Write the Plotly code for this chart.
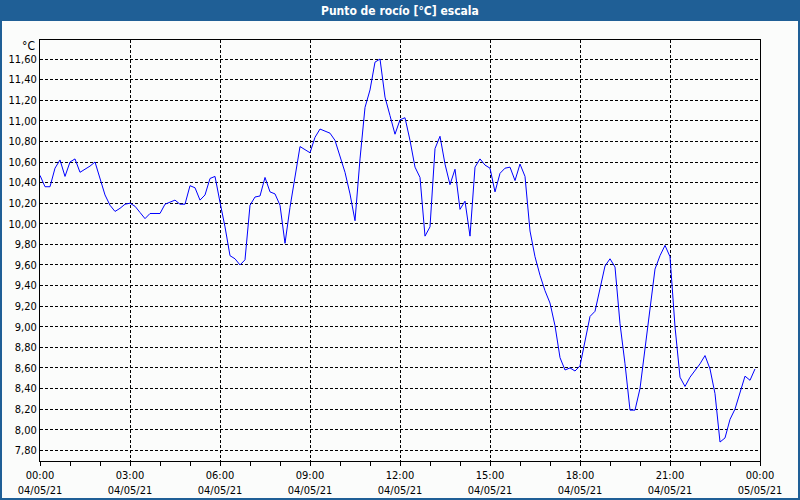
import pandas as pd
import plotly.graph_objects as go

# Dew point readings every 10 minutes, 04/05/21 00:00 .. 23:50
dew_point = [
    10.47, 10.36, 10.36, 10.54, 10.62, 10.46, 10.60, 10.63, 10.50, 10.53, 10.56, 10.60,
    10.44, 10.28, 10.18, 10.12, 10.15, 10.19, 10.20, 10.17, 10.11, 10.05, 10.10, 10.10,
    10.10, 10.19, 10.21, 10.23, 10.19, 10.19, 10.37, 10.35, 10.23, 10.28, 10.44, 10.46,
    10.21, 9.97, 9.69, 9.66, 9.60, 9.65, 10.18, 10.26, 10.27, 10.45, 10.31, 10.29,
    10.18, 9.81, 10.16, 10.45, 10.75, 10.72, 10.69, 10.84, 10.92, 10.90, 10.88, 10.81,
    10.65, 10.50, 10.29, 10.03, 10.63, 11.13, 11.30, 11.57, 11.60, 11.23, 11.05, 10.87,
    11.01, 11.03, 10.81, 10.55, 10.45, 9.88, 9.97, 10.73, 10.85, 10.58, 10.38, 10.53,
    10.14, 10.22, 9.88, 10.55, 10.63, 10.57, 10.54, 10.31, 10.49, 10.54, 10.55, 10.42,
    10.58, 10.46, 9.93, 9.68, 9.50, 9.35, 9.23, 9.01, 8.70, 8.58, 8.60, 8.57,
    8.62, 8.87, 9.10, 9.15, 9.38, 9.59, 9.66, 9.58, 9.03, 8.64, 8.19, 8.19,
    8.40, 8.77, 9.19, 9.56, 9.69, 9.79, 9.68, 9.00, 8.51, 8.42, 8.51, 8.57,
    8.64, 8.72, 8.59, 8.35, 7.88, 7.92, 8.10, 8.20, 8.35, 8.52, 8.48, 8.59,
]
times = pd.date_range("2021-05-04 00:00", periods=len(dew_point), freq="10min")

x_tick_vals = ["2021-05-04 00:00", "2021-05-04 03:00", "2021-05-04 06:00",
               "2021-05-04 09:00", "2021-05-04 12:00", "2021-05-04 15:00",
               "2021-05-04 18:00", "2021-05-04 21:00", "2021-05-05 00:00"]
x_tick_text = ["00:00<br>04/05/21", "03:00<br>04/05/21", "06:00<br>04/05/21",
               "09:00<br>04/05/21", "12:00<br>04/05/21", "15:00<br>04/05/21",
               "18:00<br>04/05/21", "21:00<br>04/05/21", "00:00<br>05/05/21"]
y_tick_vals = [7.8, 8.0, 8.2, 8.4, 8.6, 8.8, 9.0, 9.2, 9.4, 9.6, 9.8, 10.0,
               10.2, 10.4, 10.6, 10.8, 11.0, 11.2, 11.4, 11.6]

title_text = "Punto de rocío [°C] escala"
unit_text = "°C"

FONT = "DejaVu Sans Condensed, Liberation Sans, sans-serif"
BAR = "#1f5f96"

W, H = 800, 500
L, R, T, B = 40, 760, 40, 461


def px_x(p):
    return (p - L) / (R - L)


def px_y(p):
    return (B - p) / (B - T)


fig = go.Figure()
fig.add_trace(go.Scatter(x=times, y=dew_point, mode="lines",
                         line=dict(color="#0000ff", width=1), hoverinfo="skip"))

fig.update_layout(
    width=W, height=H, autosize=False,
    margin=dict(l=L, r=W - R, t=T, b=H - B, pad=0, autoexpand=False),
    paper_bgcolor="#fbfcfb", plot_bgcolor="#fbfcfb",
    separators=",.",
    showlegend=False,
    font=dict(family=FONT, size=11, color="#000000"),
    xaxis=dict(
        range=["2021-05-04 00:00", "2021-05-05 00:00"],
        tickmode="array", tickvals=x_tick_vals, ticktext=x_tick_text,
        ticks="outside", ticklen=4, tickcolor="#000000", tickwidth=1,
        showgrid=True, gridcolor="#000000", gridwidth=1, griddash="3px,2px",
        showline=True, linecolor="#000000", linewidth=1, mirror=True,
        zeroline=False, fixedrange=True, automargin=False,
        minor=dict(dtick=3600000, tick0="2021-05-04 00:00", ticks="outside",
                   ticklen=4, tickcolor="#000000", showgrid=False),
        tickfont=dict(family=FONT, size=11, color="#000000"),
    ),
    yaxis=dict(
        range=[7.696, 11.785],
        tickmode="array", tickvals=y_tick_vals, tickformat=".2f",
        ticks="", showgrid=True, gridcolor="#000000", gridwidth=1, griddash="3px,2px",
        showline=True, linecolor="#000000", linewidth=1, mirror=True,
        zeroline=False, fixedrange=True, automargin=False,
        tickfont=dict(family=FONT, size=11, color="#000000"),
    ),
    shapes=[
        dict(type="rect", xref="paper", yref="paper",
             x0=px_x(0), x1=px_x(W), y0=px_y(21), y1=px_y(0),
             fillcolor=BAR, line=dict(width=0), layer="above"),
        dict(type="rect", xref="paper", yref="paper",
             x0=px_x(1), x1=px_x(W - 1), y0=px_y(H - 1), y1=px_y(0),
             fillcolor="rgba(0,0,0,0)", line=dict(color=BAR, width=2), layer="above"),
    ],
    annotations=[
        dict(text="<b>" + title_text + "</b>", xref="paper", yref="paper",
             x=px_x(400), y=px_y(10.5), xanchor="center", yanchor="middle",
             showarrow=False, font=dict(family=FONT, size=12, color="#ffffff")),
        dict(text=unit_text, xref="paper", yref="paper",
             x=px_x(37), y=px_y(46), xanchor="right", yanchor="middle",
             showarrow=False, font=dict(family=FONT, size=12, color="#000000")),
    ],
)

fig.write_html("out.html", config={"displayModeBar": False},
               post_script="document.body.style.margin='0px';document.body.style.overflow='hidden';")
